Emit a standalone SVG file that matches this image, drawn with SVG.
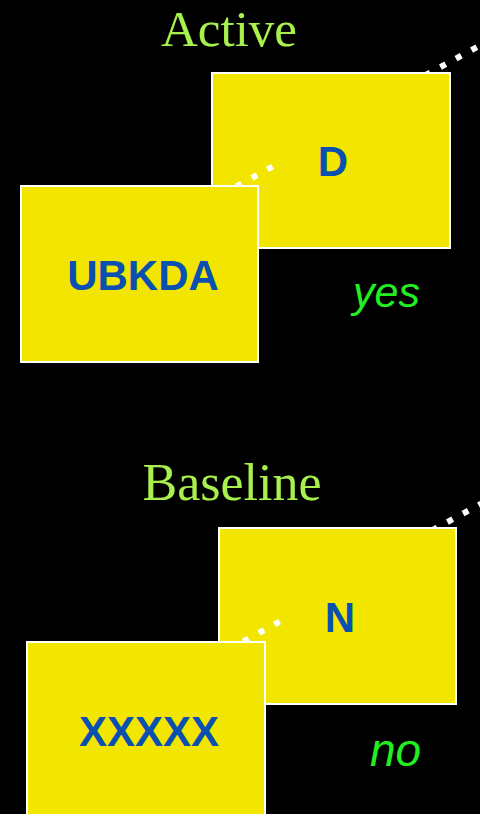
<svg xmlns="http://www.w3.org/2000/svg" width="480" height="814" viewBox="0 0 480 814">
<style>
.box{fill:#f2e600;stroke:#ffffff;stroke-width:2}
.lbl{font-family:"Liberation Sans",Arial,sans-serif;font-weight:bold;font-size:42px;fill:#0a50b0;text-anchor:middle}
.title{font-family:"Liberation Serif","Times New Roman",serif;font-size:50px;fill:#a8f04c;text-anchor:middle}
.ans{font-family:"Liberation Sans",Arial,sans-serif;font-style:italic;fill:#22ee22}
.dot{stroke:#ffffff;stroke-width:6;stroke-dasharray:6 11.7;fill:none}
</style>
<rect width="480" height="814" fill="#000000"/>
<text class="title" x="229" y="46" style="font-size:51px">Active</text>
<text class="title" x="232" y="500" style="font-size:52px">Baseline</text>
<g id="connectors-top-outer">
<path class="dot" d="M424.9,75.5 L491,39.5"/>
</g>
<g id="node-D">
<rect class="box" x="212" y="73" width="238" height="175"/>
<text class="lbl" x="333" y="176">D</text>
</g>
<g id="connectors-top-inner">
<path class="dot" d="M220.8,195 L272.6,166.6"/>
</g>
<g id="node-UBKDA">
<rect class="box" x="21" y="186" width="237" height="176"/>
<text class="lbl" x="143" y="290">UBKDA</text>
</g>
<text class="ans" x="353" y="307" font-size="43">yes</text>
<g id="connectors-bottom-outer">
<path class="dot" d="M431.9,530.5 L498,494.5"/>
</g>
<g id="node-N">
<rect class="box" x="219" y="528" width="237" height="176"/>
<text class="lbl" x="340" y="632">N</text>
</g>
<g id="connectors-bottom-inner">
<path class="dot" d="M227.8,650 L279.6,621.6"/>
</g>
<g id="node-XXXXX">
<rect class="box" x="27" y="642" width="238" height="180"/>
<text class="lbl" x="149" y="746">XXXXX</text>
</g>
<text class="ans" x="370" y="766" font-size="46">no</text>
</svg>
